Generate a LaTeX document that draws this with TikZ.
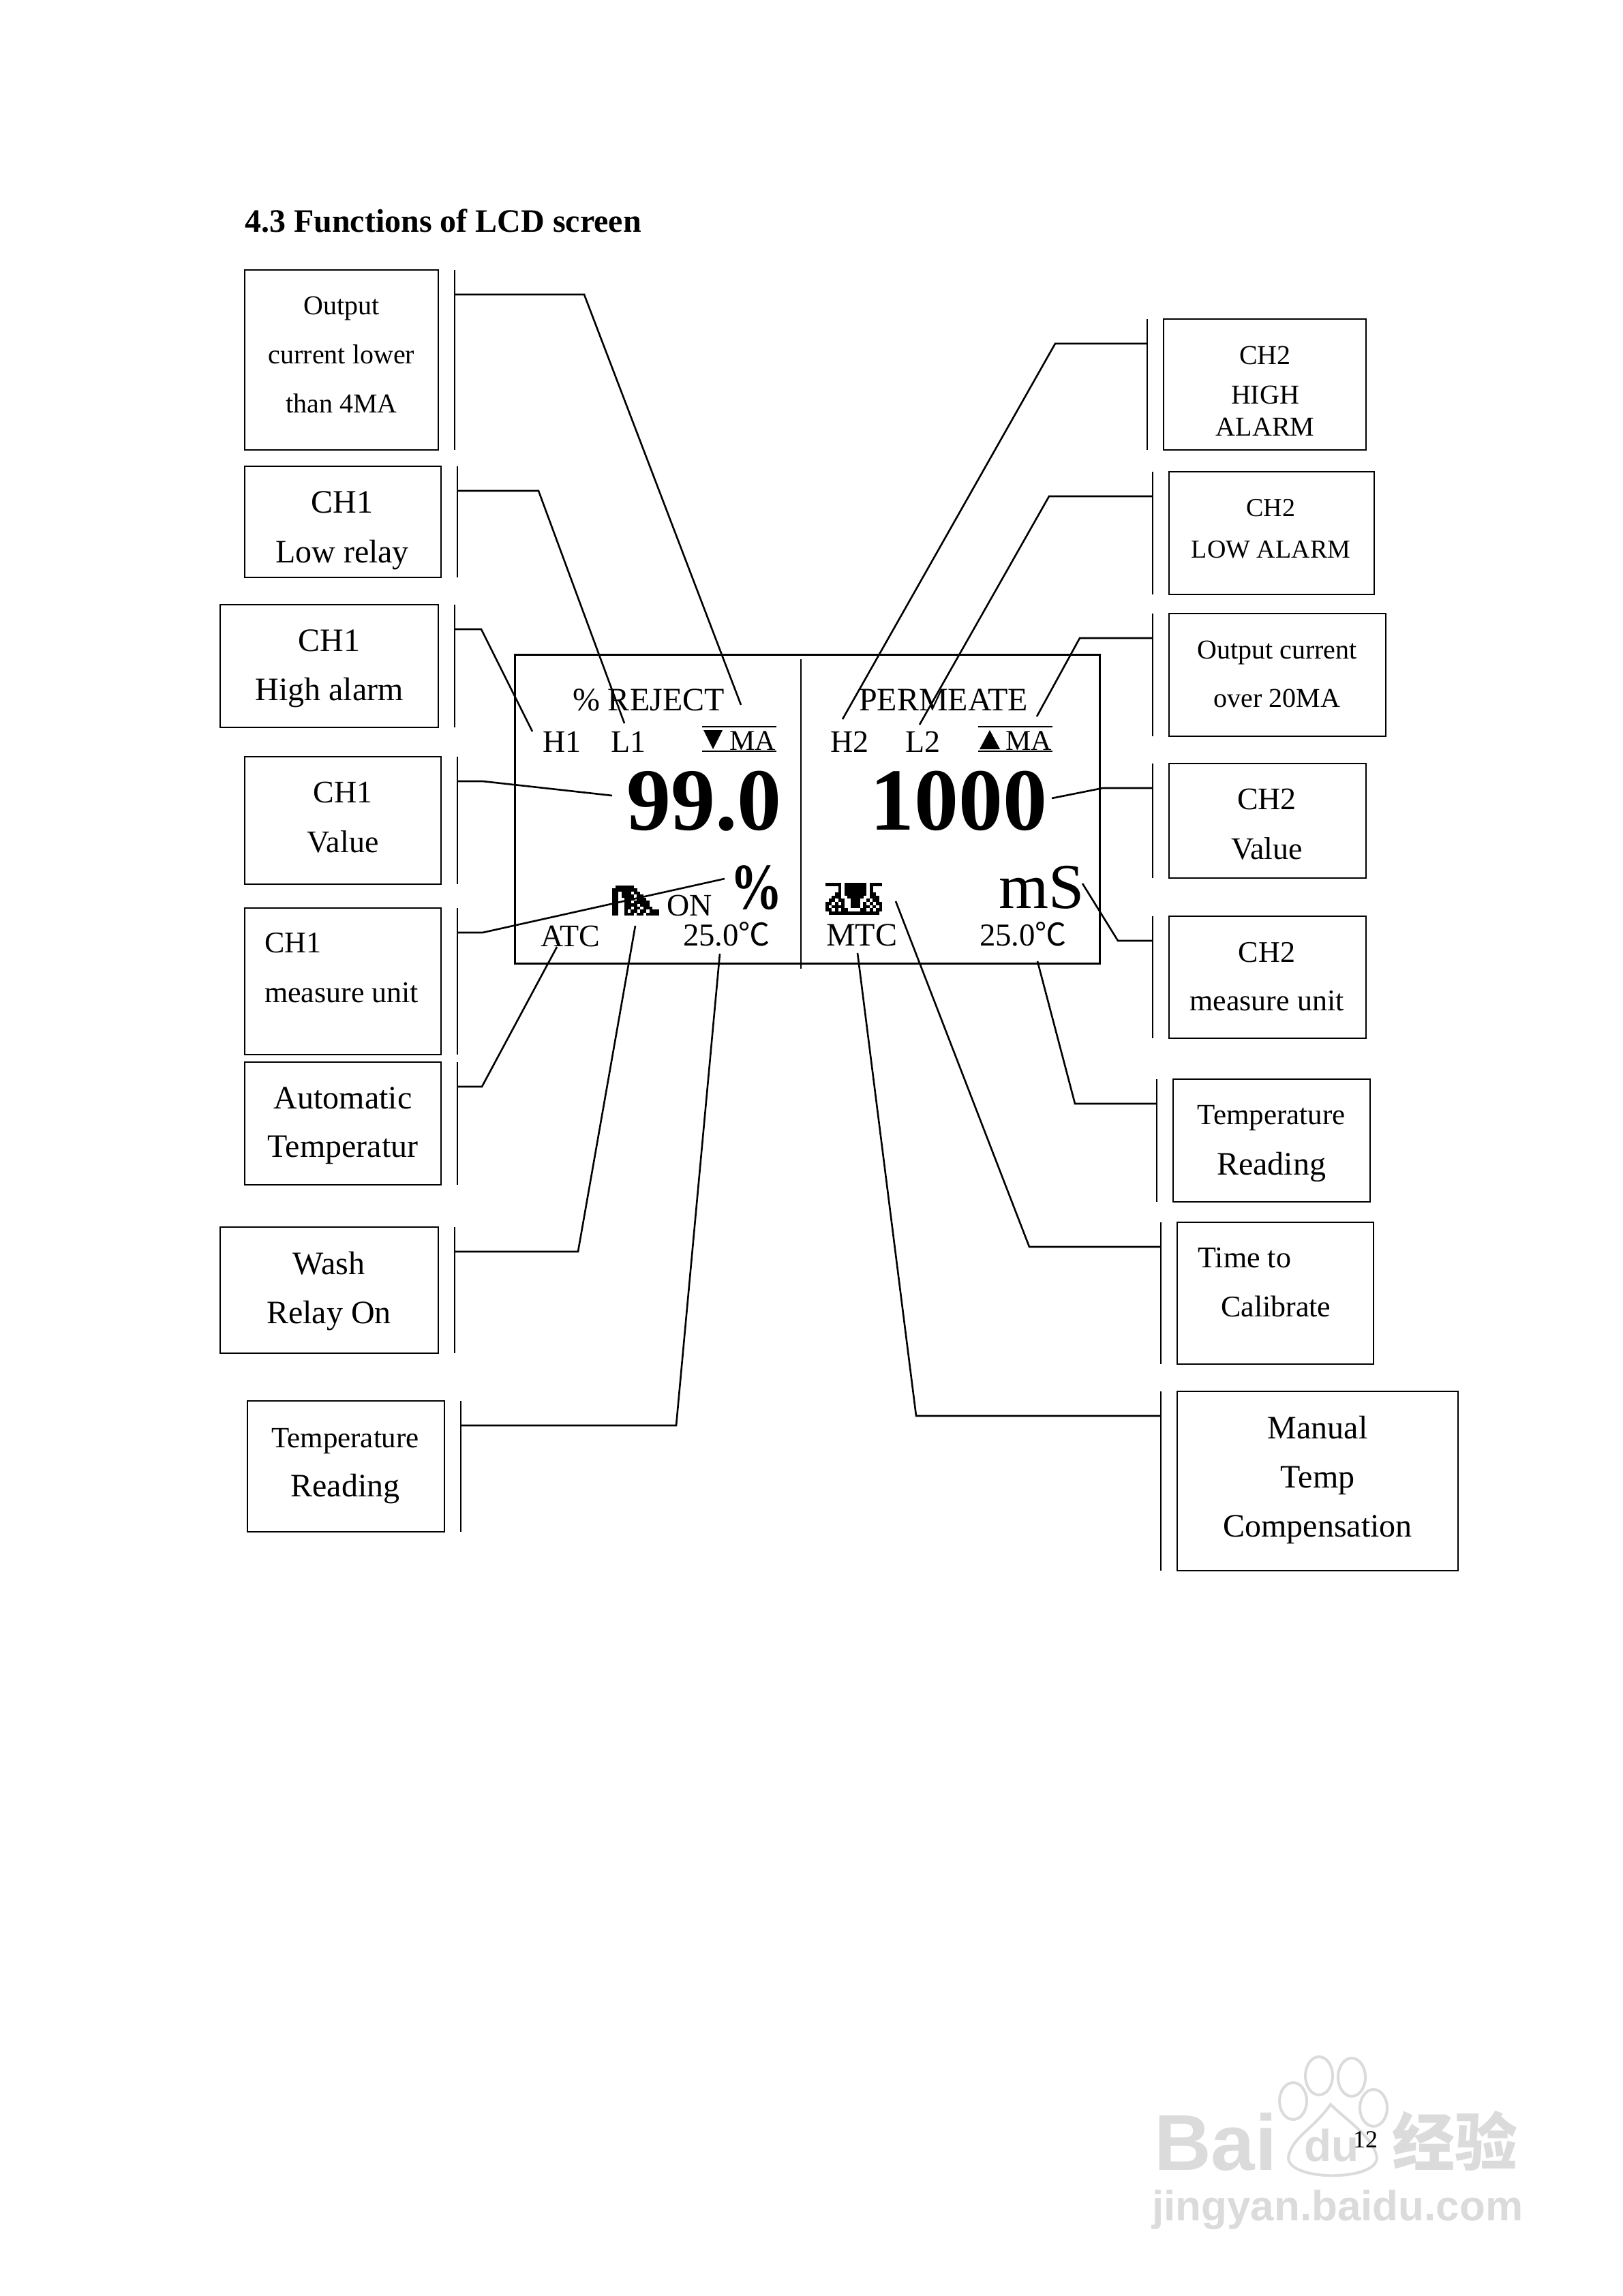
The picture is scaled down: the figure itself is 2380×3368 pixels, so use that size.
\documentclass[tikz,border=0pt]{standalone}
\usepackage{fontspec}
\setmainfont{Liberation Serif}
\newfontfamily\cjk{Noto Sans CJK SC}
\newfontfamily\wmark{Liberation Sans}
\usetikzlibrary{positioning, calc}
\def\fs#1#2{\fontsize{#1}{#2}\selectfont}

\begin{document}
\begin{tikzpicture}[
  x=.25pt, y=-.25pt,
  every node/.style={inner sep=0pt, outer sep=0pt},
  sized/.style 2 args={minimum width=#1*.25pt, minimum height=#2*.25pt},
  unitbox/.style={draw=black, line width=.65pt, rectangle},
  boxtxt/.style={align=center, anchor=center},
  lcdtxt/.style={anchor=base west},
  tick/.style={line width=.65pt},
  lead/.style={line width=.65pt},
  rule/.style={line width=.7pt},
  wmarktxt/.style={anchor=base west, text=black!14, font=\wmark\bfseries},
  paw/.style={draw=black!14, line width=1pt},
]

% -- Page ------------------------------------------------------------
\path[use as bounding box, fill=white] (0,0) rectangle (2380,3368);

% -- Watermark -------------------------------------------------------
\node[wmarktxt, font=\wmark\bfseries\fs{29}{30}] (wmBai) at (1693,3183) {Bai};
\node[wmarktxt, font=\wmark\bfseries\fs{16.4}{18}] (wmDu) at (1913,3170) {du};
\node[wmarktxt, font=\cjk\bfseries\fs{23}{24}] (wmCn) at (2042,3176) {经验};
\node[wmarktxt, font=\wmark\bfseries\fs{15.5}{17}] (wmUrl) at (1690,3257) {jingyan.baidu.com};
\draw[paw] (1935,3045) ellipse (20 and 28);
\draw[paw] (1983,3047) ellipse (20 and 28);
\draw[paw] (1897,3082) ellipse (20 and 27);
\draw[paw] (2015,3092) ellipse (20 and 27);
\draw[paw] (1890,3165) .. controls (1895,3135) and (1925,3125) .. (1952,3087)
  .. controls (1975,3110) and (2015,3135) .. (2020,3165)
  .. controls (2020,3200) and (1890,3200) .. cycle;

% -- Page text -------------------------------------------------------
\node[lcdtxt, font=\bfseries\fs{12}{14}] (title) at (359,341) {4.3 Functions of LCD screen};
\node[lcdtxt, font=\fs{9}{11}] (pageNo) at (1985,3150) {12};

% -- Boxes, left column ----------------------------------------------
\node[unitbox, sized={284}{264}] (boxOut)  at (501,528)    {};
\node[unitbox, sized={288}{163}] (boxLow)  at (503,765.5)  {};
\node[unitbox, sized={320}{180}] (boxHigh) at (483,977)    {};
\node[unitbox, sized={288}{187}] (boxValA) at (503,1203.5) {};
\node[unitbox, sized={288}{215}] (boxUnitA) at (503,1439.5) {};
\node[unitbox, sized={288}{180}] (boxAuto) at (503,1648)   {};
\node[unitbox, sized={320}{185}] (boxWash) at (483,1892.5) {};
\node[unitbox, sized={289}{192}] (boxTempA) at (507.5,2151) {};

% -- Boxes, right column ---------------------------------------------
\node[unitbox, sized={297}{192}] (boxHighB) at (1855.5,564)  {};
\node[unitbox, sized={301}{180}] (boxLowB)  at (1865.5,782)  {};
\node[unitbox, sized={318}{180}] (boxOver)  at (1874,990)    {};
\node[unitbox, sized={289}{168}] (boxValB)  at (1859.5,1204) {};
\node[unitbox, sized={289}{179}] (boxUnitB) at (1859.5,1433.5) {};
\node[unitbox, sized={289}{180}] (boxTempB) at (1865.5,1673) {};
\node[unitbox, sized={288}{208}] (boxTime)  at (1871,1897)   {};
\node[unitbox, sized={412}{263}] (boxMan)   at (1933,2172.5) {};

% -- Box labels ------------------------------------------------------
\node[boxtxt, font=\fs{10}{18}] (txtOut) at (501,520.5) {Output\\current lower\\than 4MA};
\node[boxtxt, font=\fs{12}{18.25}] (txtLow) at (502,778.5) {CH1\\Low relay};
\node[boxtxt, font=\fs{12}{18}] (txtHigh) at (483,981) {CH1\\High alarm};
\node[boxtxt, font=\fs{11.5}{18.25}] (txtValA) at (503,1199.5) {CH1\\Value};
\node[boxtxt, align=left, anchor=west, font=\fs{11}{18.25}] (txtUnitA) at (388,1420) {CH1\\measure unit};
\node[boxtxt, font=\fs{12}{17.75}] (txtAuto) at (503,1651) {Automatic\\Temperatur};
\node[boxtxt, font=\fs{12}{18}] (txtWash) at (482.5,1894) {Wash\\Relay On};
\node[boxtxt, font=\fs{10.75}{18}] (txtTempA) at (506.5,2151) {Temperature\\{\fs{12}{18}Reading}};
\node[boxtxt, font=\fs{10}{11.75}] (txtHighB) at (1856,573.5) {CH2\\[2.75pt]HIGH\\ALARM};
\node[boxtxt, font=\fs{9.5}{15.25}] (txtLowB) at (1864.5,776) {CH2\\LOW ALARM};
\node[boxtxt, font=\fs{10}{17.75}] (txtOver) at (1873.5,988.5) {Output current\\over 20MA};
\node[boxtxt, font=\fs{11.5}{18.25}] (txtValB) at (1858.5,1209.5) {CH2\\Value};
\node[boxtxt, font=\fs{11}{17.75}] (txtUnitB) at (1858.5,1433) {CH2\\measure unit};
\node[boxtxt, font=\fs{10.75}{18.5}] (txtTempB) at (1865,1678) {Temperature\\{\fs{12}{18.5}Reading}};
\node[boxtxt, align=left, anchor=west, font=\fs{11}{18}] (txtTime) at (1757.5,1881.5) {Time to\\\hspace*{8.4pt}Calibrate};
\node[boxtxt, font=\fs{12}{18}] (txtMan) at (1933,2170.5) {Manual\\Temp\\Compensation};

% -- Screen ----------------------------------------------------------
\node[draw=black, line width=.75pt, sized={857.5}{453}] (lcd) at (1184.25,1186.5) {};
\coordinate (divT) at (1175,967);
\coordinate (divB) at (1175,1421);
\draw[rule] (divT) -- (divB);

% -- Screen readings -------------------------------------------------
\node[lcdtxt, font=\fs{12}{14}] (reject) at (840,1042) {\% REJECT};
\node[lcdtxt, font=\fs{12}{14}] (permeate) at (1260,1042) {PERMEATE};
\node[lcdtxt, font=\fs{11.5}{14}] (hOne) at (796,1103) {H1};
\node[lcdtxt, font=\fs{11.5}{14}] (lOne) at (896,1103) {L1};
\node[lcdtxt, font=\fs{11.5}{14}] (hTwo) at (1218,1103) {H2};
\node[lcdtxt, font=\fs{11.5}{14}] (lTwo) at (1328,1103) {L2};
\node[lcdtxt, font=\fs{10.5}{12}] (maLow) at (1070,1100.5) {MA};
\node[lcdtxt, font=\fs{10.5}{12}] (maHigh) at (1475,1100.5) {MA};
\node[lcdtxt, font=\bfseries\fs{32.5}{36}] (valOne) at (919,1217) {99.0};
\node[lcdtxt, font=\bfseries\fs{32.5}{36}] (valTwo) at (1276,1217) {1000};
\node[lcdtxt, font=\bfseries\fs{24}{27}] (pct) at (1071,1333) {\scalebox{.8}[1]{\%}};
\node[lcdtxt, font=\fs{23.5}{26}] (mS) at (1465,1332) {mS};
\node[lcdtxt, font=\fs{11.5}{14}] (on) at (978,1343) {ON};
\node[lcdtxt, font=\fs{11.5}{14}] (atc) at (793,1388) {ATC};
\node[lcdtxt, font=\fs{12}{14}] (mtc) at (1212,1387) {MTC};
\node[lcdtxt, font=\fs{11.7}{14}] (tempOne) at (1002,1387) {25.0{\cjk\fs{11.5}{14}℃}};
\node[lcdtxt, font=\fs{11.7}{14}] (tempTwo) at (1437,1387) {25.0{\cjk\fs{11.5}{14}℃}};

% -- Rules and triangles above MA ------------------------------------
\draw[rule] (1030,1066) -- (1139,1066);
\draw[rule] (1030,1102) -- (1139,1102);
\draw[rule] (1435,1066) -- (1544,1066);
\draw[rule] (1435,1102) -- (1544,1102);
\fill[black] (1032,1071) -- (1060,1071) -- (1046,1099) -- cycle;
\fill[black] (1437,1099) -- (1467,1099) -- (1452,1071) -- cycle;

% -- Pixel icons -----------------------------------------------------
\coordinate (iconWash) at (898,1299);
\foreach \row/\cols in {
  0/{1,2,3,4,5,6},
  1/{0,1,2,3,4,5,6,7},
  2/{0,1,3,4,5,7,8},
  3/{0,1,3,4,5,6,8,9},
  4/{0,1,4,5,6,8,9,10},
  5/{0,1,4,5,7,8,9,10,11},
  6/{0,1,4,5,6,7,9,10,11},
  7/{0,1,4,5,7,8,10,11,12},
  8/{0,1,4,6,7,9,10,12,13,14},
  9/{0,1,4,5,6,8,9,11,12,13,14}}
  \foreach \col in \cols
    \fill[black] ($(iconWash)+(\col*4.55,\row*4.4)$) rectangle ++(4.8,4.6);

\coordinate (iconMan) at (1211,1295);
\foreach \row/\cols in {
  0/{0,1,2,3,4,6,7,8,9,10,11,12,14,15,16,17},
  1/{4,6,7,8,9,10,11,12,14},
  2/{4,6,7,8,9,10,11,12,14},
  3/{3,4,6,7,8,9,10,11,12,14,15},
  4/{2,3,4,7,8,9,10,11,14,15,16},
  5/{1,2,4,5,8,9,10,13,15,16},
  6/{0,1,3,5,8,9,10,12,14,16,17},
  7/{0,2,3,4,5,8,9,10,12,13,15,17},
  8/{0,1,3,5,6,11,12,14,16,17},
  9/{1,2,3,4,5,6,7,8,9,10,11,12,13,14,15,16}}
  \foreach \col in \cols
    \fill[black] ($(iconMan)+(\col*4.62,\row*4.65)$) rectangle ++(4.85,4.85);

% -- Ticks beside the boxes and where the leaders start --------------
\foreach \b in {Out,Low,High,ValA,UnitA,Auto,Wash,TempA} {
  \draw[tick] ([xshift=6pt]box\b.north east) -- ([xshift=6pt]box\b.south east);
  \coordinate (c\b) at ([shift={(6pt,-9pt)}]box\b.north east);
}
\foreach \b in {HighB,LowB,Over,ValB,UnitB,TempB,Time,Man} {
  \draw[tick] ([xshift=-6pt]box\b.north west) -- ([xshift=-6pt]box\b.south west);
  \coordinate (c\b) at ([shift={(-6pt,-9pt)}]box\b.north west);
}

% -- Leader ends on the screen ---------------------------------------
\coordinate (eOut) at (1087,1034);
\coordinate (eLow) at (916,1061);
\coordinate (eHigh) at (781,1073);
\coordinate (eValA) at (898,1167);
\coordinate (eUnitA) at (1063,1289);
\coordinate (eAuto) at (817,1389);
\coordinate (eWash) at (932,1358);
\coordinate (eTempA) at (1056,1399);
\coordinate (eHighB) at (1236,1055);
\coordinate (eLowB) at (1349,1063);
\coordinate (eOver) at (1521,1051);
\coordinate (eValB) at (1543,1171);
\coordinate (eUnitB) at (1588,1296);
\coordinate (eTempB) at (1522,1410);
\coordinate (eTime) at (1314,1322);
\coordinate (eMan) at (1258,1398);

% -- Leaders ---------------------------------------------------------
\draw[lead] (cOut) -- ++(190,0) -- (eOut);
\draw[lead] (cLow) -- ++(119,0) -- (eLow);
\draw[lead] (cHigh) -- ++(39,0) -- (eHigh);
\draw[lead] (cValA) -- ++(37,0) -- (eValA);
\draw[lead] (cUnitA) -- ++(37,0) -- (eUnitA);
\draw[lead] (cAuto) -- ++(36,0) -- (eAuto);
\draw[lead] (cWash) -- ++(181,0) -- (eWash);
\draw[lead] (cTempA) -- ++(316,0) -- (eTempA);
\draw[lead] (cHighB) -- ++(-135,0) -- (eHighB);
\draw[lead] (cLowB) -- ++(-152,0) -- (eLowB);
\draw[lead] (cOver) -- ++(-107,0) -- (eOver);
\draw[lead] (cValB) -- ++(-73,0) -- (eValB);
\draw[lead] (cUnitB) -- ++(-51,0) -- (eUnitB);
\draw[lead] (cTempB) -- ++(-120,0) -- (eTempB);
\draw[lead] (cTime) -- ++(-193,0) -- (eTime);
\draw[lead] (cMan) -- ++(-359,0) -- (eMan);

\end{tikzpicture}
\end{document}
